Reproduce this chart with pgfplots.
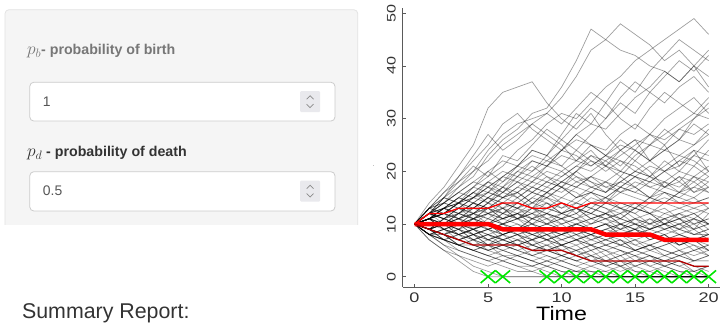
\RequirePackage{fix-cm}
\documentclass[border=0pt]{standalone}
\usepackage{pgfplots}
\pgfplotsset{compat=1.18}
\usepackage{fontspec}
\setmainfont{Liberation Sans}
\definecolor{panelbg}{HTML}{F5F5F5}
\definecolor{panelborder}{HTML}{E3E3E3}
\definecolor{inputborder}{HTML}{CCCCCC}
\definecolor{spin}{HTML}{E9E9ED}
\definecolor{chev}{HTML}{8A8A8A}
\definecolor{txtgrey}{HTML}{777777}
\definecolor{txtdark}{HTML}{333333}
\definecolor{inputtxt}{HTML}{555555}
\definecolor{axisgrey}{HTML}{5A5A5A}
\definecolor{xgreen}{HTML}{00E600}
\definecolor{darkred}{HTML}{B40000}
\newcommand\walk[1]{%
  \def\walkcoords{}%
  \foreach \v [count=\i from 0] in {#1}{\xdef\walkcoords{\walkcoords(\i,\v)}}%
  \edef\tmp{\noexpand\addplot[walkstyle] coordinates {\walkcoords};}\tmp}
\begin{document}
\begin{tikzpicture}
\begin{scope}[x=1pt,y=-1pt]
\useasboundingbox (0,0) rectangle (723,328);
% side panel
\draw[panelborder, fill=panelbg, rounded corners=4pt, line width=0.8pt] (5,9) rectangle (360,245);
\fill[white] (0,225.5) rectangle (362,250);
\node[anchor=base west, inner sep=0, text=txtgrey, font=\fontsize{14.3}{16}\selectfont\bfseries] at (27,54) {{\fontsize{17.5}{18}\selectfont$p_b$}- probability of birth};
\draw[inputborder, fill=white, rounded corners=4pt, line width=0.8pt] (30,82) rectangle (337,121);
\node[anchor=base west, inner sep=0, text=inputtxt, font=\fontsize{14}{16}\selectfont] at (43,106) {1};
\fill[spin, rounded corners=1pt] (302,91) rectangle (322,112);
\draw[chev, line width=0.7pt] (308.5,99)--(312,95.5)--(315.5,99) (308.5,104)--(312,107.5)--(315.5,104);
\node[anchor=base west, inner sep=0, text=txtdark, font=\fontsize{14.3}{16}\selectfont\bfseries] at (27,157) {{\fontsize{17.5}{18}\selectfont$p_d$} - probability of death};
\draw[inputborder, fill=white, rounded corners=4pt, line width=0.8pt] (30,172) rectangle (337,211.5);
\node[anchor=base west, inner sep=0, text=inputtxt, font=\fontsize{14}{16}\selectfont] at (43,196) {0.5};
\fill[spin, rounded corners=1pt] (302,181) rectangle (322,202);
\draw[chev, line width=0.7pt] (308.5,189)--(312,185.5)--(315.5,189) (308.5,194)--(312,197.5)--(315.5,194);
\node[anchor=base west, inner sep=0, text=txtdark, font=\fontsize{21.5}{23}\selectfont] at (22,320) {Summary Report:};
\node[inner sep=0, text=axisgrey, font=\fontsize{6}{6}\selectfont] at (376,166) {.};
\coordinate (O) at (405.2,288);
\end{scope}
\begin{axis}[
  at={(O)}, anchor=south west, scale only axis,
  width=319.6pt, height=280.5pt,
  xmin=-0.8, xmax=20.8, ymin=-1.96, ymax=50.96,
  axis x line*=bottom, axis y line*=left,
  axis line style={axisgrey, line width=1pt},
  xtick={0,5,10,15,20}, ytick={0,10,20,30,40,50},
  tick align=inside, major tick length=3pt,
  tick style={axisgrey, line width=0.8pt},
  /pgf/number format/assume math mode=true,
  ticklabel style={text=txtdark},
  xticklabel style={yshift=-2.5pt, font=\fontsize{14}{14}\selectfont, xscale=1.3},
  yticklabel style={xshift=-3.5pt, rotate=90, anchor=south, font=\fontsize{12.5}{12.5}\selectfont, xscale=1.3},
  xlabel={Time},
  xlabel style={at={(axis description cs:0.5,0)}, anchor=base, yshift=-34pt, font=\fontsize{19.5}{21}\selectfont, xscale=1.2, text=black},
  walkstyle/.style={black, opacity=0.38, line width=0.7pt},
  clip=true,
]
\walk{10,14,17,21,25,32,35,36,37,33,30,28,31,27,24,26,22,25,21,24,20}
\walk{10,12,15,18,20,22,25,27,29,31,34,38,43,45,48,46,44,41,43,40,38}
\walk{10,11,13,15,17,19,21,24,26,29,31,30,33,36,38,41,43,45,47,49,46}
\walk{10,12,14,17,19,23,26,28,31,32,36,41,47,45,43,42,40,39,37,40,36}
\walk{10,13,15,17,20,24,27,29,30,31,29,32,35,33,37,35,39,42,45,43,41}
\walk{10,11,12,14,16,18,17,20,22,21,24,27,29,28,31,34,36,39,37,40,43}
\walk{10,12,13,15,17,16,19,21,20,23,26,24,27,30,33,31,35,33,36,38,35}
\walk{10,11,13,14,13,15,17,19,18,21,23,22,25,24,27,29,27,30,32,34,31}
\walk{10,12,14,16,15,18,20,19,22,21,24,26,25,23,26,24,27,25,28,30,33}
\walk{10,11,12,14,16,15,17,16,18,20,19,21,23,22,20,23,25,24,26,25,28}
\walk{10,13,14,16,18,20,22,21,24,23,21,24,22,20,22,21,19,22,20,23,26}
\walk{10,11,13,12,14,16,15,17,19,18,20,22,21,23,25,24,22,24,26,29,27}
\walk{10,12,11,13,15,14,16,18,17,16,18,17,19,21,20,19,21,20,22,21,24}
\walk{10,11,12,11,13,15,14,13,15,17,16,18,17,16,18,17,19,18,17,19,18}
\walk{10,9,11,12,14,13,15,14,16,15,17,19,18,17,16,18,17,16,15,17,16}
\walk{10,11,10,12,11,13,12,14,13,12,14,13,15,14,16,15,14,16,15,14,15}
\walk{10,12,13,12,14,13,12,14,13,15,14,13,12,14,13,12,14,15,14,13,14}
\walk{10,9,10,12,11,13,14,13,12,13,15,14,13,12,11,13,12,14,13,12,13}
\walk{10,11,12,11,10,12,11,12,13,11,12,13,12,11,12,13,12,11,12,13,12}
\walk{10,9,11,10,12,11,10,11,12,11,10,11,12,11,10,11,10,12,11,10,11}
\walk{10,11,10,9,11,10,12,11,10,12,11,10,11,10,9,11,10,9,10,11,10}
\walk{10,9,10,11,10,9,10,9,11,10,9,10,9,10,11,10,9,10,9,8,9}
\walk{10,10,9,10,9,10,9,8,9,10,9,8,9,10,9,8,9,8,9,8,8}
\walk{10,9,8,9,10,9,8,9,8,7,8,9,8,9,8,7,8,7,8,7,7}
\walk{10,11,10,9,8,9,8,9,8,9,8,7,8,7,8,9,8,7,6,7,6}
\walk{10,9,10,9,8,7,8,9,10,9,8,9,8,7,6,7,6,7,8,7,8}
\walk{10,8,9,8,7,8,7,6,7,8,7,6,7,8,7,6,5,6,7,6,5}
\walk{10,9,8,7,8,7,6,7,6,5,6,7,6,5,6,5,6,5,4,5,6}
\walk{10,9,8,9,7,6,7,6,5,6,5,4,5,6,5,4,5,4,5,4,5}
\walk{10,8,7,8,6,7,6,5,6,5,4,5,4,3,4,5,4,3,4,3,4}
\walk{10,9,7,6,7,5,6,5,4,5,4,3,4,3,2,3,4,3,2,3,3}
\walk{10,8,7,6,5,6,5,4,5,4,3,4,3,2,3,2,3,2,3,2,2}
\walk{10,9,7,6,5,4,5,4,3,4,3,2,3,2,1,2,1,2,1,1,2}
\walk{10,8,6,5,4,3,4,3,2,3,2,1,2,1,2,1,1,0,0,0,0}
\walk{10,7,5,4,3,2,3,2,1,2,1,0,0,0,0,0,0,0,0,0,0}
\walk{10,7,5,3,1,0,0,0,0,0,0,0,0,0,0,0,0,0,0,0,0}
\walk{10,8,6,4,2,1,0,0,0,0,0,0,0,0,0,0,0,0,0,0,0}
\walk{10,9,7,5,4,3,2,1,1,0,0,0,0,0,0,0,0,0,0,0,0}
\walk{10,8,8,6,5,4,3,2,2,1,0,0,0,0,0,0,0,0,0,0,0}
\walk{10,8,7,6,5,4,3,4,3,2,1,1,0,0,0,0,0,0,0,0,0}
\walk{10,9,8,6,6,5,4,4,3,2,3,2,1,0,0,0,0,0,0,0,0}
\walk{10,9,8,6,5,6,4,3,2,3,2,1,1,1,0,0,0,0,0,0,0}
\walk{10,9,8,7,6,5,6,5,4,3,4,3,2,3,2,0,0,0,0,0,0}
\walk{10,9,8,7,8,6,5,6,4,5,4,3,4,2,3,1,0,0,0,0,0}
\walk{10,9,10,8,7,8,6,7,5,6,4,5,3,4,2,3,2,1,0,0,0}
\walk{10,11,9,8,9,7,8,6,7,5,6,4,5,3,4,2,3,2,1,0,0}
\walk{10,9,10,8,9,8,7,8,6,7,6,5,6,4,5,3,4,2,3,1,0}
\walk{10,11,9,8,9,7,8,9,7,8,6,7,8,6,7,5,6,7,5,6,4}
\walk{10,12,11,10,11,9,10,11,9,10,11,12,10,11,9,10,8,9,10,8,9}
\walk{10,11,13,11,12,10,11,12,10,9,10,8,9,10,8,9,7,8,6,7,5}
\walk{10,9,11,10,12,13,11,12,10,11,9,10,11,12,10,9,10,11,12,10,11}
\walk{10,12,10,11,9,10,8,9,10,8,9,7,8,9,10,8,9,10,11,9,12}
\walk{10,8,9,10,8,9,10,8,7,8,6,7,5,6,7,5,6,4,5,3,4}
\walk{10,11,12,13,12,14,12,13,11,12,10,11,9,10,8,9,7,8,6,7,8}
\walk{10,9,8,10,9,11,10,12,11,13,12,14,13,15,14,13,15,14,16,15,17}
\walk{10,13,12,14,15,17,16,18,16,15,17,16,14,15,13,14,12,13,11,12,10}
\walk{10,12,14,13,15,17,19,18,20,22,21,19,17,18,16,17,15,16,14,15,13}
\walk{10,11,13,15,14,12,13,11,12,14,13,15,17,16,18,20,19,21,23,22,20}
\walk{10,9,8,7,8,9,10,9,11,10,12,11,13,12,14,13,15,14,16,17,19}
\walk{10,8,7,8,9,8,7,6,7,6,7,8,7,6,5,4,3,4,3,2,1}
\walk{10,11,9,10,8,9,7,8,6,7,5,6,4,5,3,4,2,3,2,1,2}
\walk{10,12,11,13,11,12,14,13,15,14,12,13,11,12,10,11,9,10,8,9,7}
\walk{10,13,16,18,21,19,23,22,25,28,26,29,32,30,34,37,35,38,41,39,42}
\walk{10,12,15,14,17,20,18,21,24,23,27,31,29,33,30,28,32,35,33,31,34}
\walk{10,13,16,19,22,25,29,31,28,26,24,27,25,23,21,24,22,20,18,21,19}
\walk{10,12,15,19,23,27,24,26,29,27,25,22,24,21,19,22,20,17,19,16,18}
\walk{10,11,13,14,16,18,16,19,21,19,17,20,18,16,19,17,15,18,16,19,21}
\walk{10,12,11,13,12,14,16,15,17,19,18,20,23,21,24,22,25,28,26,30,32}
\walk{10,11,12,14,13,15,13,14,16,18,17,15,16,14,17,19,18,20,22,24,23}
\walk{10,13,15,14,16,14,17,15,13,16,14,12,14,13,11,13,12,10,12,11,13}
\walk{10,11,12,10,11,12,13,11,12,10,11,9,10,11,12,10,11,9,10,11,9}
\walk{10,9,8,9,7,8,9,10,8,9,7,8,6,7,8,6,7,8,6,7,5}
\walk{10,12,13,15,14,16,15,17,16,18,17,15,16,18,17,19,17,18,20,19,17}
\walk{10,11,13,12,14,13,15,16,14,15,13,14,16,15,17,16,18,17,19,18,20}
\walk{10,9,11,12,11,10,12,11,13,12,11,13,12,14,13,11,12,10,11,12,10}
\walk{10,8,9,7,8,6,7,8,7,9,8,10,9,8,10,9,11,10,9,11,10}
\walk{10,11,9,10,11,10,9,8,9,7,8,9,7,8,6,7,5,6,7,5,6}
\walk{10,12,14,16,18,17,19,21,23,22,24,23,21,23,22,20,22,24,23,25,27}
\walk{10,13,14,13,15,17,15,16,14,16,18,20,22,21,23,25,27,26,28,27,29}
\walk{10,9,10,9,11,12,10,11,13,14,12,13,11,12,13,12,10,11,9,10,8}
\walk{10,8,9,8,9,10,8,9,8,7,6,7,6,7,6,5,6,5,4,5,4}
\walk{10,11,10,12,13,12,11,13,14,16,15,17,16,15,17,16,15,17,16,18,16}
\walk{10,12,11,10,9,10,11,10,9,8,9,10,9,8,9,10,9,11,10,9,10}
\walk{10,9,10,11,12,11,13,12,11,12,11,12,14,13,12,14,13,12,13,14,15}
\walk{10,11,12,14,15,16,18,20,19,21,20,18,19,17,18,20,19,17,18,16,17}
\walk{10,8,7,6,7,6,8,7,6,5,6,5,6,5,4,5,4,3,4,3,3}
\walk{10,13,12,11,13,15,14,16,18,17,19,21,20,22,24,26,25,27,29,31,30}
\walk{10,11,10,11,12,14,13,15,17,16,18,17,19,18,20,19,18,20,21,23,22}
\walk{10,9,8,7,6,5,6,7,8,7,8,9,8,9,10,9,8,9,8,7,8}
\walk{10,12,13,14,12,13,11,12,14,13,12,11,10,12,11,10,9,10,11,9,10}
% quantile lines
\addplot[red, line width=1.3pt] coordinates {(0,10)(1,12)(2,12)(3,13)(4,13)(5,13)(6,14)(7,14)(8,13)(9,13)(10,14)(11,13)(12,14)(13,14)(14,14)(15,14)(16,14)(17,14)(18,14)(19,14)(20,14)};
\addplot[red, line width=4.5pt] coordinates {(0,10)(1,10)(2,10)(3,10)(4,10)(5,10)(6,9)(7,9)(8,9)(9,9)(10,9)(11,9)(12,9)(13,8)(14,8)(15,8)(16,8)(17,7)(18,7)(19,7)(20,7)};
\addplot[darkred, line width=1.3pt] coordinates {(0,10)(1,9)(2,8)(3,7)(4,6)(5,6)(6,6)(7,6)(8,5)(9,5)(10,5)(11,4)(12,3)(13,3)(14,3)(15,3)(16,3)(17,3)(18,3)(19,2)(20,2)};
% extinction marks
\addplot[only marks, mark=x, mark size=10.5pt, mark options={yscale=0.85}, xgreen, line width=1.6pt] coordinates {(5,0)(6,0)(9,0)(10,0)(11,0)(12,0)(13,0)(14,0)(15,0)(16,0)(17,0)(18,0)(19,0)(20,0)};
\end{axis}
\end{tikzpicture}
\end{document}
